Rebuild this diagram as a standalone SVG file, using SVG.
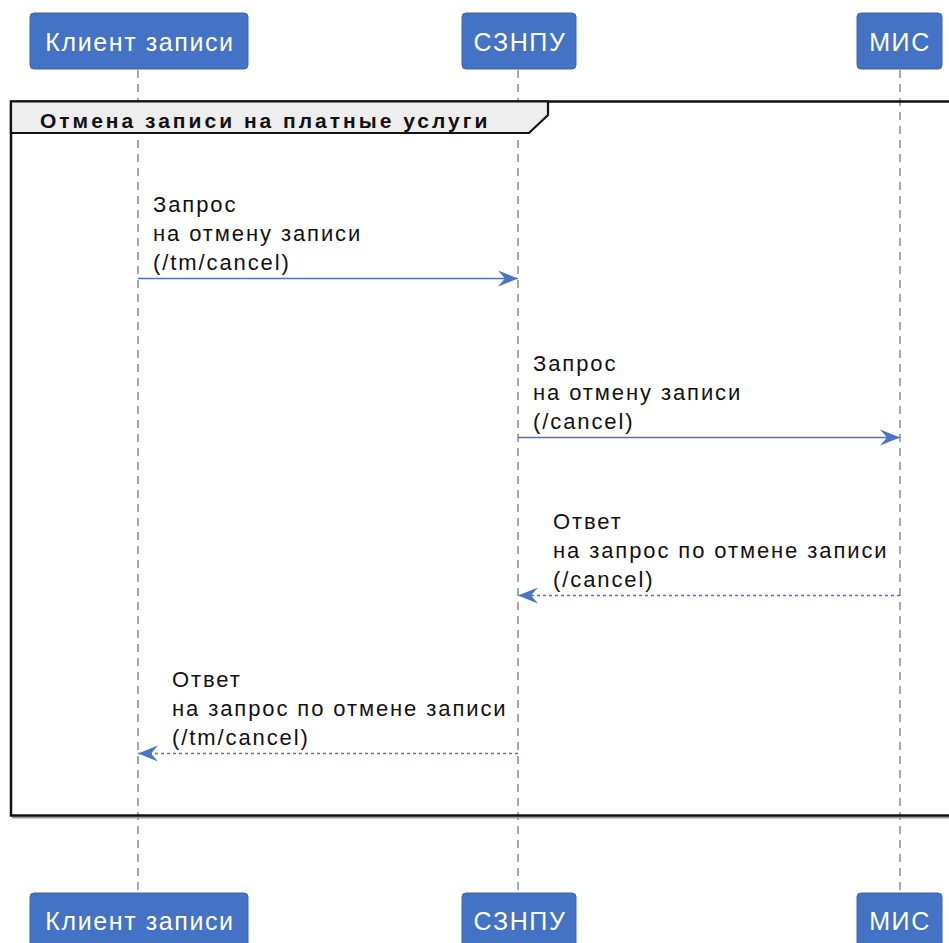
<svg xmlns="http://www.w3.org/2000/svg" width="949" height="943" viewBox="0 0 949 943">
<defs>
<style>
.box{fill:#4472c4;stroke:#3a64ad;stroke-width:1}
.plabel{font-family:"Liberation Sans",Arial,sans-serif;font-size:25px;fill:#ffffff;text-anchor:middle;letter-spacing:1.6px}
.life{stroke:#a8a8a8;stroke-width:2;stroke-dasharray:8,6;fill:none}
.msg{font-family:"Liberation Sans",Arial,sans-serif;font-size:22px;fill:#111111;letter-spacing:1.9px}
.solid{stroke:#4a74c8;stroke-width:1.6;fill:none}
.dash{stroke:#4a74c8;stroke-width:1.4;stroke-dasharray:3,3;fill:none}
.title{font-family:"Liberation Sans",Arial,sans-serif;font-size:21px;font-weight:bold;fill:#111111;letter-spacing:3px}
</style>
<marker id="arr" markerWidth="22" markerHeight="18" refX="20" refY="9" orient="auto" markerUnits="userSpaceOnUse">
<path d="M0,1 L20,9 L0,17 L7,9 Z" fill="#4a74c8"/>
</marker>
</defs>
<rect width="949" height="943" fill="#ffffff"/>
<g id="lifelines">
<line class="life" x1="138" y1="70" x2="138" y2="893"/>
<line class="life" x1="518" y1="70" x2="518" y2="893"/>
<line class="life" x1="900" y1="70" x2="900" y2="893"/>
</g>
<g id="frame">
<line x1="12" y1="817.5" x2="960" y2="817.5" stroke="#9a9a9a" stroke-width="2"/>
<rect x="11" y="101.5" width="960" height="714" fill="none" stroke="#111111" stroke-width="2.5"/>
<path d="M11,101.5 H548 V115 L529,133 H11 Z" fill="#eeeeee" stroke="#111111" stroke-width="2.2"/>
<text class="title" x="40" y="128">Отмена записи на платные услуги</text>
</g>
<g id="connectors">
<g id="m1">
<line class="solid" x1="138" y1="278.5" x2="518" y2="278.5" marker-end="url(#arr)"/>
<text class="msg" x="153" y="212">Запрос</text>
<text class="msg" x="153" y="241">на отмену записи</text>
<text class="msg" x="153" y="270">(/tm/cancel)</text>
</g>
<g id="m2">
<line class="solid" x1="518" y1="437.5" x2="900" y2="437.5" marker-end="url(#arr)"/>
<text class="msg" x="533" y="371">Запрос</text>
<text class="msg" x="533" y="400">на отмену записи</text>
<text class="msg" x="533" y="429">(/cancel)</text>
</g>
<g id="m3">
<line class="dash" x1="900" y1="595.5" x2="518" y2="595.5" marker-end="url(#arr)"/>
<text class="msg" x="553" y="529">Ответ</text>
<text class="msg" x="553" y="558">на запрос по отмене записи</text>
<text class="msg" x="553" y="587">(/cancel)</text>
</g>
<g id="m4">
<line class="dash" x1="518" y1="753.5" x2="138" y2="753.5" marker-end="url(#arr)"/>
<text class="msg" x="172" y="687">Ответ</text>
<text class="msg" x="172" y="716">на запрос по отмене записи</text>
<text class="msg" x="172" y="745">(/tm/cancel)</text>
</g>
</g>
<g id="client-top"><rect class="box" x="30" y="13" width="218" height="56" rx="4"/><text class="plabel" x="140" y="51">Клиент записи</text></g>
<g id="sznpu-top"><rect class="box" x="462" y="13" width="114" height="56" rx="4"/><text class="plabel" x="520" y="51">СЗНПУ</text></g>
<g id="mis-top"><rect class="box" x="857" y="13" width="85" height="56" rx="4"/><text class="plabel" x="900" y="51">МИС</text></g>
<g id="client-bottom"><rect class="box" x="30" y="893" width="218" height="60" rx="4"/><text class="plabel" x="140" y="930">Клиент записи</text></g>
<g id="sznpu-bottom"><rect class="box" x="462" y="893" width="114" height="60" rx="4"/><text class="plabel" x="520" y="930">СЗНПУ</text></g>
<g id="mis-bottom"><rect class="box" x="857" y="893" width="85" height="60" rx="4"/><text class="plabel" x="900" y="930">МИС</text></g>
</svg>
